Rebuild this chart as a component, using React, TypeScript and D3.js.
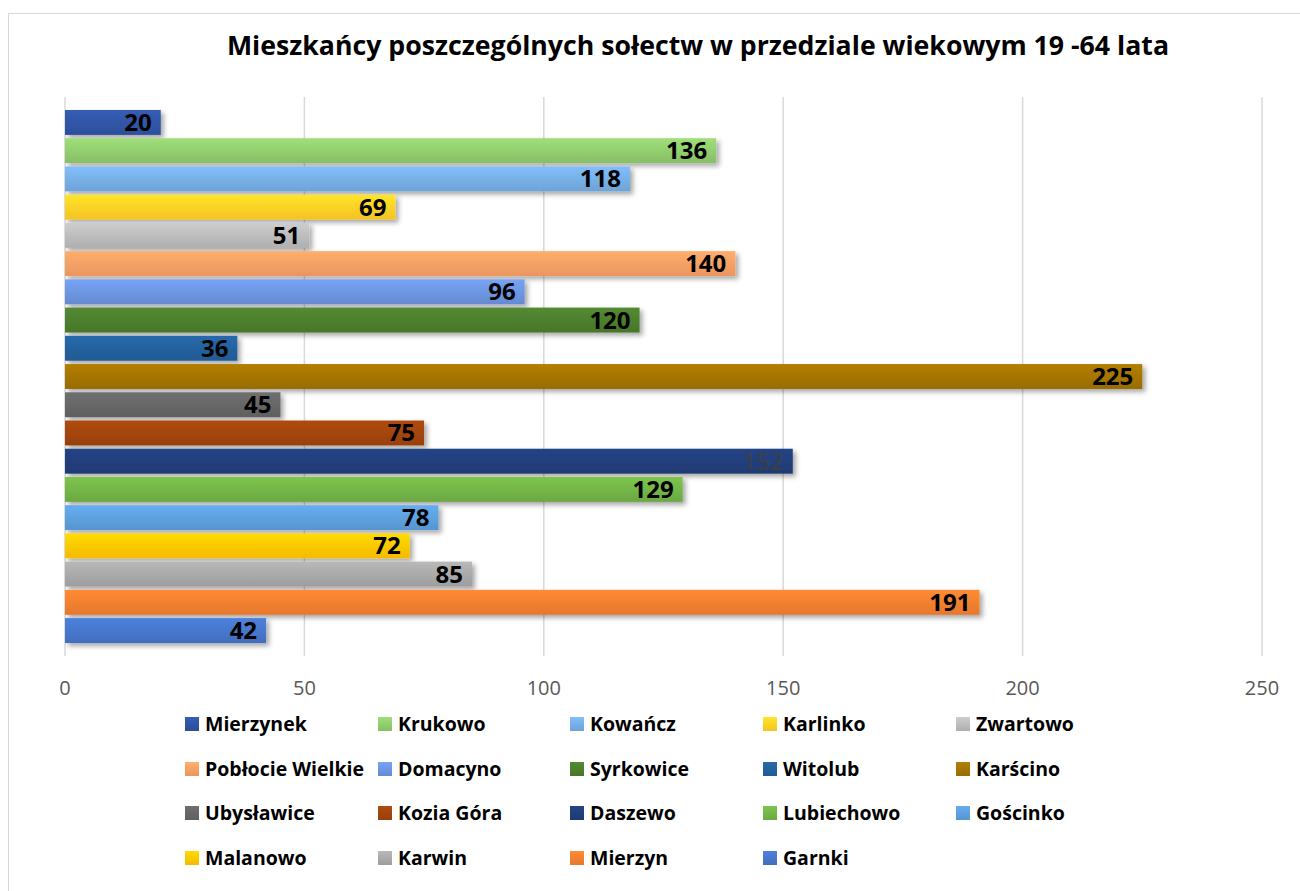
import { useEffect, useRef } from "react";
import * as d3 from "d3";

const villages = [
  "Mierzynek", "Krukowo", "Kowańcz", "Karlinko", "Zwartowo",
  "Pobłocie Wielkie", "Domacyno", "Syrkowice", "Witolub", "Karścino",
  "Ubysławice", "Kozia Góra", "Daszewo", "Lubiechowo", "Gościnko",
  "Malanowo", "Karwin", "Mierzyn", "Garnki",
];
const residents = [20, 136, 118, 69, 51, 140, 96, 120, 36, 225, 45, 75, 152, 129, 78, 72, 85, 191, 42];
const barColors = [
  "#2f52a0", "#8cc56a", "#72a9de", "#fdca24", "#b5b5b5",
  "#f39a61", "#6890d8", "#4a7a2c", "#225e98", "#9e7000",
  "#626262", "#9c420c", "#203c76", "#6fae44", "#5a9ad6",
  "#fdc100", "#a3a3a3", "#ee7b2e", "#4472c4",
];
const xTicks = [0, 50, 100, 150, 200, 250];
const title = "Mieszkańcy poszczególnych sołectw w przedziale wiekowym 19 -64 lata";

const W = 1300;
const H = 891;
const font = "'Open Sans', sans-serif";

export default function App() {
  const ref = useRef<SVGSVGElement>(null);

  useEffect(() => {
    const svg = d3.select(ref.current);
    svg.selectAll("*").remove();

    const x = d3.scaleLinear().domain([0, 250]).range([65, 1262]);
    const y = d3.scaleBand<string>().domain(villages).range([97, 656])
      .paddingInner(0.117).paddingOuter(0.46);

    const defs = svg.append("defs");
    const shadow = defs.append("filter").attr("id", "shadow")
      .attr("x", "-10%").attr("y", "-30%").attr("width", "130%").attr("height", "180%");
    shadow.append("feDropShadow").attr("dx", 3).attr("dy", 3).attr("stdDeviation", 2.5)
      .attr("flood-color", "#000").attr("flood-opacity", 0.35);

    barColors.forEach((c, i) => {
      const g = defs.append("linearGradient").attr("id", `grad${i}`)
        .attr("x1", 0).attr("y1", 0).attr("x2", 0).attr("y2", 1);
      g.append("stop").attr("offset", "0%").attr("stop-color", d3.color(c)!.brighter(0.35).formatHex());
      g.append("stop").attr("offset", "100%").attr("stop-color", d3.color(c)!.darker(0.1).formatHex());
    });

    // chart frame (only top and left visible)
    svg.append("rect").attr("x", 8.5).attr("y", 13.5).attr("width", W).attr("height", H)
      .attr("fill", "#fff").attr("stroke", "#d9d9d9");

    svg.append("text").attr("x", 698).attr("y", 55).attr("text-anchor", "middle")
      .attr("font-family", font).attr("font-weight", 700).attr("font-size", 26.7)
      .attr("fill", "#000").text(title);

    // gridlines
    svg.append("g").selectAll("line").data(xTicks).join("line")
      .attr("x1", d => x(d)).attr("x2", d => x(d)).attr("y1", 97).attr("y2", 656)
      .attr("stroke", "#d9d9d9").attr("stroke-width", 1.5);

    svg.append("g").selectAll("text").data(xTicks).join("text")
      .attr("x", d => x(d)).attr("y", 695).attr("text-anchor", "middle")
      .attr("font-family", font).attr("font-size", 20).attr("fill", "#595959")
      .text(d => d);

    const bars = svg.append("g");
    bars.selectAll("rect").data(villages).join("rect")
      .attr("x", x(0)).attr("y", d => y(d)!)
      .attr("width", (_, i) => x(residents[i]) - x(0)).attr("height", y.bandwidth())
      .attr("fill", (_, i) => `url(#grad${i})`).attr("filter", "url(#shadow)");

    bars.selectAll("text").data(villages).join("text")
      .attr("x", (_, i) => x(residents[i]) - 9).attr("y", d => y(d)! + y.bandwidth() / 2 + 8.5)
      .attr("text-anchor", "end").attr("font-family", font).attr("font-size", 24)
      .attr("font-weight", d => d === "Daszewo" ? 400 : 700)
      .attr("fill", d => d === "Daszewo" ? "#404040" : "#000")
      .text((_, i) => residents[i]);

    // legend
    const colX = [185, 378, 570, 763, 956];
    const rowY = [724, 769, 813, 858];
    const leg = svg.append("g").selectAll("g").data(villages).join("g")
      .attr("transform", (_, i) => `translate(${colX[i % 5]},${rowY[Math.floor(i / 5)]})`);
    leg.append("rect").attr("x", 0).attr("y", -7).attr("width", 14).attr("height", 14)
      .attr("fill", (_, i) => `url(#grad${i})`);
    leg.append("text").attr("x", 20).attr("y", 7).attr("font-family", font)
      .attr("font-weight", 700).attr("font-size", 19.5).attr("fill", "#000")
      .text(d => d);
  }, []);

  return (
    <svg ref={ref} width={W} height={H} style={{ position: "absolute", left: 0, top: 0 }} />
  );
}
